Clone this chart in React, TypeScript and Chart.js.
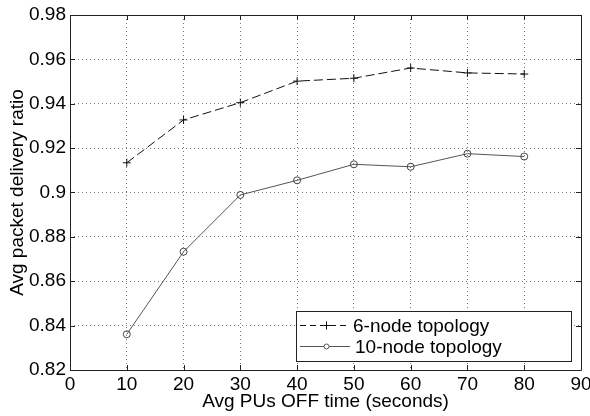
import React, { useEffect, useRef } from "react";
import { Chart, registerables } from "chart.js";

Chart.register(...registerables);

const xValues = [10, 20, 30, 40, 50, 60, 70, 80];
const sixNode = [0.9134, 0.9327, 0.9405, 0.9502, 0.9515, 0.9561, 0.9539, 0.9534];
const tenNode = [0.8361, 0.8733, 0.8989, 0.9055, 0.9127, 0.9116, 0.9175, 0.9162];
const xTicks = [0, 10, 20, 30, 40, 50, 60, 70, 80, 90];
const yTicks = [0.82, 0.84, 0.86, 0.88, 0.9, 0.92, 0.94, 0.96, 0.98];
const seriesNames = ["6-node topology", "10-node topology"];
const xTitle = "Avg PUs OFF time (seconds)";
const yTitle = "Avg packet delivery ratio";

const FONT = "Arial, 'Liberation Sans', sans-serif";
const FS = 19;

const framePlugin = {
  id: "matlabFrame",
  afterDraw(chart: any) {
    const { ctx, chartArea } = chart;
    const { left, right, top, bottom } = chartArea;
    const xs = chart.scales.x;
    const ys = chart.scales.y;
    ctx.save();
    ctx.strokeStyle = "#222";
    ctx.lineWidth = 1;
    ctx.setLineDash([]);
    ctx.beginPath();
    ctx.rect(Math.round(left) + 0.5, Math.round(top) + 0.5, Math.round(right - left), Math.round(bottom - top));
    ctx.stroke();
    const tl = 5;
    ctx.beginPath();
    xTicks.forEach((v) => {
      const px = Math.round(xs.getPixelForValue(v)) + 0.5;
      ctx.moveTo(px, bottom);
      ctx.lineTo(px, bottom - tl);
      ctx.moveTo(px, top);
      ctx.lineTo(px, top + tl);
    });
    yTicks.forEach((v) => {
      const py = Math.round(ys.getPixelForValue(v)) + 0.5;
      ctx.moveTo(left, py);
      ctx.lineTo(left + tl, py);
      ctx.moveTo(right, py);
      ctx.lineTo(right - tl, py);
    });
    ctx.stroke();

    // legend
    const lx = 296.5, ly = 311.5, lw = 275, lh = 50;
    ctx.fillStyle = "#fff";
    ctx.fillRect(lx, ly, lw, lh);
    ctx.strokeStyle = "#222";
    ctx.strokeRect(lx, ly, lw, lh);
    ctx.font = FS + "px " + FONT;
    ctx.textBaseline = "middle";
    ctx.textAlign = "left";
    // entry 1
    const y1 = 325.5;
    ctx.strokeStyle = "#111";
    ctx.setLineDash([6, 4]);
    ctx.beginPath();
    ctx.moveTo(300, y1);
    ctx.lineTo(348, y1);
    ctx.stroke();
    ctx.setLineDash([]);
    ctx.beginPath();
    ctx.moveTo(322.5, y1);
    ctx.lineTo(330.5, y1);
    ctx.moveTo(326.5, y1 - 4);
    ctx.lineTo(326.5, y1 + 4);
    ctx.stroke();
    ctx.fillStyle = "#000";
    ctx.fillText(seriesNames[0], 353, y1 + 1);
    // entry 2
    const y2 = 346.5;
    ctx.strokeStyle = "#555";
    ctx.beginPath();
    ctx.moveTo(300, y2);
    ctx.lineTo(350, y2);
    ctx.stroke();
    ctx.fillStyle = "#fff";
    ctx.beginPath();
    ctx.arc(326.5, y2, 2.5, 0, Math.PI * 2);
    ctx.fill();
    ctx.stroke();
    ctx.fillStyle = "#000";
    ctx.fillText(seriesNames[1], 355, y2 + 1);
    ctx.restore();
  },
};

export default function App() {
  const ref = useRef<HTMLCanvasElement>(null);
  useEffect(() => {
    if (!ref.current) return;
    const chart = new Chart(ref.current, {
      type: "line",
      data: {
        datasets: [
          {
            label: seriesNames[0],
            data: xValues.map((x, i) => ({ x, y: sixNode[i] })),
            borderColor: "#111",
            borderWidth: 1,
            borderDash: [9, 4],
            pointStyle: "cross",
            pointRadius: 4,
            pointBorderColor: "#111",
            pointBorderWidth: 1,
            backgroundColor: "#111",
            tension: 0,
          },
          {
            label: seriesNames[1],
            data: xValues.map((x, i) => ({ x, y: tenNode[i] })),
            borderColor: "#555",
            borderWidth: 1,
            pointStyle: "circle",
            pointRadius: 3.5,
            pointBorderColor: "#444",
            pointBackgroundColor: "rgba(255,255,255,0)",
            pointBorderWidth: 1,
            tension: 0,
          },
        ],
      },
      options: {
        animation: false,
        responsive: false,
        events: [],
        layout: { padding: { top: 15, right: 9, left: 0, bottom: 0 } },
        plugins: { legend: { display: false }, tooltip: { enabled: false } },
        scales: {
          x: {
            type: "linear",
            min: 0,
            max: 90,
            afterBuildTicks: (s: any) => {
              s.ticks = xTicks.map((v) => ({ value: v }));
            },
            afterFit: (s: any) => {
              s.height = 46;
              s.paddingLeft = 0;
              s.paddingRight = 0;
            },
            border: { display: false, dash: [1, 3] },
            grid: {
              drawTicks: false,
              color: "#777",
              lineWidth: 1,
            },
            ticks: {
              padding: 3,
              color: "#000",
              font: { family: FONT, size: FS },
              maxRotation: 0,
              autoSkip: false,
              callback: (v: any) => String(v),
            },
            title: {
              display: true,
              text: xTitle,
              color: "#000",
              font: { family: FONT, size: FS },
              padding: { top: 0, bottom: 3 },
            },
          },
          y: {
            min: 0.82,
            max: 0.98,
            afterBuildTicks: (s: any) => {
              s.ticks = yTicks.map((v) => ({ value: v }));
            },
            afterFit: (s: any) => {
              s.width = 70;
              s.paddingTop = 0;
              s.paddingBottom = 0;
            },
            border: { display: false, dash: [1, 3] },
            grid: {
              drawTicks: false,
              color: "#777",
              lineWidth: 1,
            },
            ticks: {
              padding: 4,
              color: "#000",
              font: { family: FONT, size: FS },
              autoSkip: false,
              callback: (v: any) => String(Math.round(v * 100) / 100),
            },
            title: {
              display: true,
              text: yTitle,
              color: "#000",
              font: { family: FONT, size: FS },
              padding: { top: 6, bottom: 0 },
            },
          },
        },
      },
      plugins: [framePlugin],
    } as any);
    return () => chart.destroy();
  }, []);
  return (
    <div style={{ position: "absolute", left: 0, top: 0, width: 590, height: 416, background: "#fff" }}>
      <canvas ref={ref} width={590} height={416} />
    </div>
  );
}
